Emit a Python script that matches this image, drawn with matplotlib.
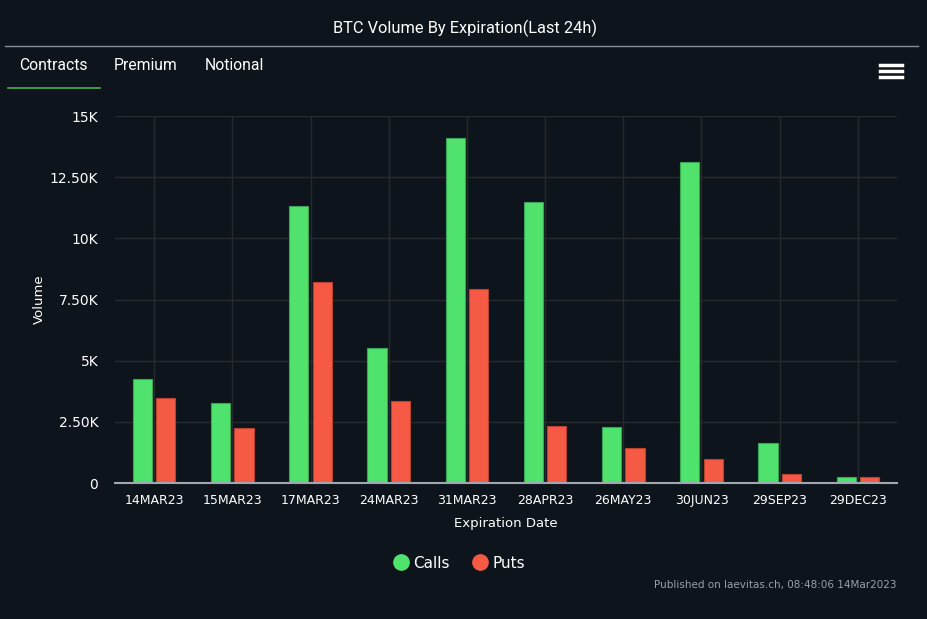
import numpy as np
import matplotlib.pyplot as plt
from matplotlib.lines import Line2D

expiries = ['14MAR23', '15MAR23', '17MAR23', '24MAR23', '31MAR23',
            '28APR23', '26MAY23', '30JUN23', '29SEP23', '29DEC23']
calls = [4270, 3250, 11310, 5500, 14120, 11500, 2280, 13110, 1630, 255]
puts = [3490, 2240, 8220, 3340, 7940, 2330, 1445, 990, 350, 250]
yticks = [0, 2500, 5000, 7500, 10000, 12500, 15000]
ytick_labels = ['0', '2.50K', '5K', '7.50K', '10K', '12.50K', '15K']

bg = '#0e141b'
green = '#4fe36d'
red = '#f55a45'

fig = plt.figure(figsize=(9.27, 6.19), dpi=100, facecolor=bg)
ax = fig.add_axes([0.1241, 0.2197, 0.8435, 0.5929], facecolor=bg)

x = np.arange(len(expiries))
ax.bar(x - 0.15, calls, width=0.245, color=green, edgecolor='#3aa552', linewidth=0.8, zorder=3)
ax.bar(x + 0.15, puts, width=0.245, color=red, edgecolor='#b8432f', linewidth=0.8, zorder=3)

ax.set_xlim(-0.5, len(expiries) - 0.5)
ax.set_ylim(0, 15000)
ax.set_xticks(x)
ax.set_xticklabels(expiries)
ax.set_yticks(yticks)
ax.set_yticklabels(ytick_labels)
ax.tick_params(axis='both', length=0, colors='white', labelsize=9)
ax.tick_params(axis='x', pad=8)
ax.tick_params(axis='y', pad=12, labelsize=10)
ax.grid(True, color='#262a2e', linewidth=1, zorder=0)
for s in ['top', 'right', 'left']:
    ax.spines[s].set_visible(False)
ax.spines['bottom'].set_color('#a0a7b0')
ax.spines['bottom'].set_linewidth(1.5)
ax.spines['bottom'].set_zorder(4)

ax.set_xlabel('Expiration Date', color='white', fontsize=9.5, labelpad=7)
ax.set_ylabel('Volume', color='white', fontsize=9.5, labelpad=3)

# header
fig.text(0.502, 1 - 28 / 619, 'BTC Volume By Expiration(Last 24h)', color='white',
         fontsize=11.8, family='Roboto', ha='center', va='center')
fig.add_artist(Line2D([5 / 927, 918 / 927], [1 - 46 / 619] * 2, color='#8a8f96', linewidth=1))
fig.text(19 / 927, 1 - 66 / 619, 'Contracts', color='white', fontsize=11.3, family='Roboto', va='center')
fig.text(114 / 927, 1 - 66 / 619, 'Premium', color='white', fontsize=11.3, family='Roboto', va='center')
fig.text(205 / 927, 1 - 66 / 619, 'Notional', color='white', fontsize=11.3, family='Roboto', va='center')
fig.add_artist(Line2D([8 / 927, 100 / 927], [1 - 88 / 619] * 2, color='#4caf50', linewidth=1.2))
for yy in [64.5, 70.5, 76.5]:
    fig.add_artist(Line2D([880 / 927, 902 / 927], [1 - yy / 619] * 2, color='white', linewidth=2.5))

handles = [Line2D([], [], marker='o', linestyle='', markersize=11, color=green),
           Line2D([], [], marker='o', linestyle='', markersize=11, color=red)]
leg = fig.legend(handles, ['Calls', 'Puts'], loc='center', bbox_to_anchor=(0.495, 1 - 563 / 619),
                 ncol=2, frameon=False, fontsize=11, handletextpad=0.3, columnspacing=1.5,
                 handlelength=1.0)
for t in leg.get_texts():
    t.set_color('white')

fig.text(897 / 927, 1 - 585 / 619, 'Published on laevitas.ch, 08:48:06 14Mar2023',
         color='#9aa0a6', fontsize=7.5, ha='right', va='center')

fig.savefig('out.png', dpi=100, facecolor=bg)
